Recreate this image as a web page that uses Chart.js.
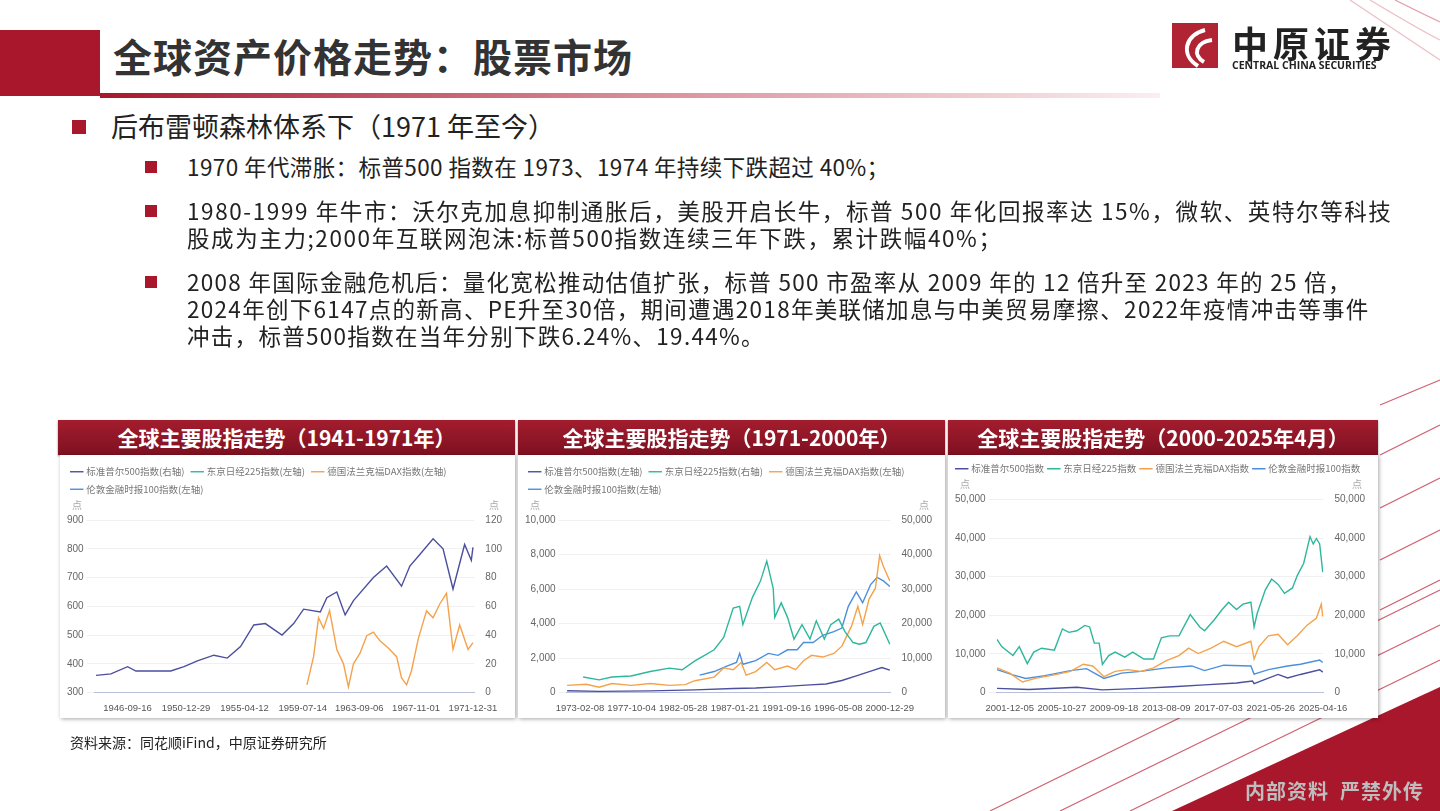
<!DOCTYPE html>
<html><head><meta charset="utf-8">
<script src="https://cdn.jsdelivr.net/npm/chart.js@4.4.1/dist/chart.umd.min.js"></script>
<style>
body{margin:0;width:1440px;height:811px;overflow:hidden;background:#fff;font-family:"Noto Sans CJK SC","Noto Sans",sans-serif;position:relative}
.abs{position:absolute}
#title{left:113px;top:27px;font-size:39px;font-weight:bold;color:#333;letter-spacing:1px}
.b1{font-size:27px;color:#222}
.b2{left:187px;font-size:22.5px;color:#222;line-height:27px;white-space:nowrap}
.sq{display:inline-block;background:#a8172c;position:absolute}
.hdr{top:420px;height:35px;background:linear-gradient(#a31d2e,#7e1020);color:#fff;font-weight:bold;font-size:21px;text-align:center;line-height:35px;box-shadow:0 1px 2px #888}
.panel{top:455px;height:263px;background:#fff;box-shadow:1px 1px 4px rgba(0,0,0,.35)}
.panel canvas{display:block}
</style></head><body>
<svg class="abs" style="left:0;top:0" width="1440" height="811">
<defs><linearGradient id="ul" x1="0" x2="1"><stop offset="0" stop-color="#a8172c"/><stop offset="0.5" stop-color="#d98b98"/><stop offset="1" stop-color="#fbeef0"/></linearGradient></defs>
<rect x="0" y="30" width="100" height="66" fill="#a8172c"/>
<rect x="100" y="93" width="1060" height="5" fill="url(#ul)"/>
<g stroke="#c43a4e" stroke-width="1.3" fill="none" opacity="0.8">
<line x1="1130" y1="811" x2="1440" y2="660"/><line x1="1060" y1="811" x2="1440" y2="625"/>
<line x1="990" y1="811" x2="1440" y2="590"/><line x1="1380" y1="720" x2="1440" y2="690"/>
<line x1="1380" y1="610" x2="1440" y2="580"/><line x1="1380" y1="560" x2="1440" y2="530"/>
<line x1="1380" y1="508" x2="1440" y2="478"/><line x1="1380" y1="455" x2="1440" y2="425"/>
<line x1="1380" y1="405" x2="1440" y2="380"/>
<path d="M1350,0 Q1410,40 1440,60" opacity="0.4"/><path d="M1370,0 Q1420,30 1440,40" opacity="0.4"/>
<path d="M1395,0 Q1425,15 1440,22" opacity="0.6"/>
</g>
<polygon points="1440,687 1440,811 1172,811" fill="#a8172c"/>
<rect x="1172" y="23" width="46" height="45" fill="#b02433"/>
<path d="M1205,30 C1185,35 1180,55 1198,66 M1212,40 C1196,42 1192,55 1204,62" stroke="#fff" stroke-width="4" fill="none"/>
</svg>
<div class="abs" style="left:1232px;top:16px;font-size:36px;font-family:'Noto Sans CJK SC';font-weight:bold;color:#222;letter-spacing:5px">中原证券</div>
<div class="abs" style="left:1232px;top:58px;font-size:10.5px;font-weight:bold;color:#222;font-family:'Open Sans'">CENTRAL CHINA SECURITIES</div>
<div id="title" class="abs">全球资产价格走势：股票市场</div>

<span class="sq" style="left:72px;top:120px;width:14px;height:14px"></span>
<div class="abs b1" style="left:111px;top:106px">后布雷顿森林体系下（1971 年至今）</div>
<span class="sq" style="left:145px;top:161px;width:12px;height:12px"></span>
<div class="abs b2" style="top:153px;letter-spacing:0.4px">1970 年代滞胀：标普500 指数在 1973、1974 年持续下跌超过 40%；</div>
<span class="sq" style="left:145px;top:205px;width:12px;height:12px"></span>
<div class="abs b2" style="top:197px;letter-spacing:1.6px">1980-1999 年牛市：沃尔克加息抑制通胀后，美股开启长牛，标普 500 年化回报率达 15%，微软、英特尔等科技<br>股成为主力;2000年互联网泡沫:标普500指数连续三年下跌，累计跌幅40%；</div>
<span class="sq" style="left:145px;top:276px;width:12px;height:12px"></span>
<div class="abs b2" style="top:268px;letter-spacing:1.3px">2008 年国际金融危机后：量化宽松推动估值扩张，标普 500 市盈率从 2009 年的 12 倍升至 2023 年的 25 倍，<br>2024年创下6147点的新高、PE升至30倍，期间遭遇2018年美联储加息与中美贸易摩擦、2022年疫情冲击等事件<br>冲击，标普500指数在当年分别下跌6.24%、19.44%。</div>

<div class="abs hdr" style="left:58px;width:457px">全球主要股指走势（1941-1971年）</div>
<div class="abs hdr" style="left:518px;width:427px">全球主要股指走势（1971-2000年）</div>
<div class="abs hdr" style="left:948px;width:430px">全球主要股指走势（2000-2025年4月）</div>
<div class="abs panel" style="left:60px;width:455px"><canvas id="c1" width="455" height="263"></canvas></div>
<div class="abs panel" style="left:518px;width:427px"><canvas id="c2" width="427" height="263"></canvas></div>
<div class="abs panel" style="left:948px;width:430px"><canvas id="c3" width="430" height="263"></canvas></div>
<div class="abs" style="left:70px;top:732px;font-size:14px;color:#222">资料来源：同花顺iFind，中原证券研究所</div>
<div class="abs" style="left:1245px;top:776px;font-size:20px;font-weight:bold;color:#bdbdbd;letter-spacing:1px">内部资料&nbsp;&nbsp;严禁外传</div>

<script>
// ---------- Data ----------
const names1 = ['标准普尔500指数(右轴)','东京日经225指数(左轴)','德国法兰克福DAX指数(左轴)','伦敦金融时报100指数(左轴)'];
const names2 = ['标准普尔500指数(左轴)','东京日经225指数(右轴)','德国法兰克福DAX指数(左轴)','伦敦金融时报100指数(左轴)'];
const names3 = ['标准普尔500指数','东京日经225指数','德国法兰克福DAX指数','伦敦金融时报100指数'];
const ticks1 = ['1946-09-16','1950-12-29','1955-04-12','1959-07-14','1963-09-06','1967-11-01','1971-12-31'];
const ticks2 = ['1973-02-08','1977-10-04','1982-05-28','1987-01-21','1991-09-16','1996-05-08','2000-12-29'];
const ticks3 = ['2001-12-05','2005-10-27','2009-09-18','2013-08-09','2017-07-03','2021-05-26','2025-04-16'];

// Chart 1 (1944-1971)
const spx1Years = [1944.40,1945.49,1946.71,1947.32,1948.66,1949.87,1950.84,1951.82,1953.03,1954.01,1954.98,1955.95,1956.80,1957.41,1958.02,1958.87,1959.60,1960.82,1961.30,1962.03,1962.64,1963.25,1964.71,1965.68,1966.77,1967.38,1968.11,1969.08,1969.81,1970.54,1971.39,1971.88,1972.0];
const spx1 = [12,13,18,15,15,15,18,22,26,24,32,47,48,44,40,48,58,56,66,70,54,64,80,88,74,88,96,107,100,72,103,92,101];
const dax1Years = [1959.84,1960.33,1960.69,1961.06,1961.50,1962.03,1962.52,1962.88,1963.25,1963.73,1964.22,1964.71,1965.19,1965.80,1966.41,1966.77,1967.14,1967.50,1967.99,1968.60,1969.08,1969.57,1970.06,1970.54,1971.03,1971.64,1972.0];
const dax1 = [327,425,560,523,585,450,400,320,400,437,498,510,480,455,425,351,327,376,486,584,560,608,645,450,535,450,474];

// Chart 2 (1972-2000)
const spx2Years = [1971.95,1974.83,1979.43,1983.45,1986.90,1988.92,1990.93,1993.81,1995.25,1996.68,1998.12,1999.56,2000.28,2001.0];
const spx2 = [105,70,100,160,240,270,330,450,500,700,1000,1300,1450,1300];
const nky2Years = [1973.39,1974.83,1975.98,1977.70,1979.43,1981.15,1982.30,1983.45,1984.32,1985.18,1986.04,1986.90,1987.48,1987.77,1988.63,1989.35,1989.92,1990.50,1990.64,1991.22,1991.79,1992.37,1993.09,1993.81,1994.38,1995.10,1995.68,1996.40,1996.97,1997.69,1998.27,1998.84,1999.56,2000.13,2001.0];
const nky2 = [4517,3700,4500,4800,6100,7100,6600,9200,10800,12400,16000,24500,25000,19700,27600,32300,38100,30200,21800,26000,21800,15500,19700,15500,20800,15500,19700,21300,17600,14500,14000,14500,19200,20200,14000];
const dax2Years = [1971.95,1973.68,1974.83,1975.98,1977.70,1979.43,1981.15,1982.59,1983.45,1985.18,1986.04,1986.90,1987.62,1988.06,1988.92,1989.92,1990.64,1991.79,1992.51,1993.23,1993.95,1994.96,1995.96,1996.68,1997.55,1998.12,1998.55,1999.13,1999.70,2000.08,2000.42,2001.0];
const dax2 = [420,480,315,525,420,525,420,460,690,900,1430,1325,1750,1010,1220,1750,1325,1535,1325,1850,2160,2060,2270,2690,3850,5000,3950,5420,6050,7940,7310,6470];
const ftse2Years = [1983.88,1985.18,1986.33,1987.19,1987.48,1987.77,1988.92,1990.07,1990.93,1991.79,1992.66,1993.23,1994.09,1994.96,1995.96,1996.68,1997.26,1997.98,1998.55,1999.27,1999.85,2000.42,2001.0];
const ftse2 = [1010,1220,1535,1750,2270,1640,1850,2270,2160,2480,2480,2900,2900,3320,3530,3740,5000,5840,5210,6260,6680,6470,6150];

// Chart 3 (2001-2025)
const spx3Years = [2000.98,2003.36,2006.93,2008.84,2011.70,2014.08,2016.46,2018.84,2020.03,2020.15,2021.94,2022.65,2023.61,2025.04,2025.27];
const spx3 = [1100,800,1400,700,1100,1500,2000,2500,3000,2300,4700,3800,4700,5900,5300];
const nky3Years = [2000.98,2001.33,2002.17,2002.64,2003.24,2003.72,2004.31,2005.26,2005.86,2006.34,2006.93,2007.53,2007.89,2008.24,2008.60,2008.84,2009.31,2009.79,2010.51,2011.10,2011.93,2012.65,2013.24,2013.84,2014.55,2015.39,2016.10,2016.46,2017.17,2017.77,2018.25,2018.84,2019.32,2019.91,2020.15,2020.39,2020.99,2021.46,2021.94,2022.42,2023.01,2023.37,2023.85,2024.32,2024.56,2024.80,2025.04,2025.27];
const nky3 = [13800,11900,9600,11900,7500,10500,11500,11000,16500,15600,16000,17400,17000,12800,12800,7300,9600,10500,9200,10500,8700,8700,14200,14700,14700,20200,17000,16000,18800,21500,23400,21500,22900,23400,17000,20600,26600,29400,28000,25700,27100,30300,33500,40400,38500,39900,38500,31200];
const dax3Years = [2000.98,2001.93,2002.88,2003.84,2005.26,2006.46,2007.41,2008.12,2008.96,2009.79,2010.74,2011.70,2012.65,2013.60,2014.55,2015.27,2015.98,2016.94,2017.89,2018.84,2019.91,2020.15,2020.51,2021.22,2021.94,2022.65,2023.37,2024.08,2024.80,2025.16,2025.27];
const dax3 = [6400,5050,2750,3670,4590,5500,7340,6900,4130,5500,5960,5500,6400,8260,9600,11500,10100,11500,13300,11900,13300,8700,11900,14700,15100,12400,14700,17400,19300,22900,19700];
const ftse3Years = [2000.98,2002.17,2003.12,2004.55,2006.46,2007.65,2008.96,2010.27,2011.70,2013.60,2015.51,2016.46,2017.89,2019.91,2020.15,2021.22,2022.65,2023.61,2025.04,2025.27];
const ftse3 = [5960,4590,3670,4400,5700,6200,3670,5050,5500,6400,6900,5700,7100,6900,4800,5960,6900,7340,8440,7800];

// ---------- Build ----------
const COL = {spx:'#4b4f9e', nky:'#2fb79c', dax:'#f4a24c', ftse:'#4b8fdc'};
const pts = (xs, ys) => xs.map((x,i)=>({x, y: ys[i]}));
const decYear = s => { const d = new Date(s+'T00:00:00Z'); const y = d.getUTCFullYear();
  const a = Date.UTC(y,0,1), b = Date.UTC(y+1,0,1); return y + (d - a)/(b - a); };
const fmt = v => v.toLocaleString('en-US');

const unitPlugin = {id:'unit',
  beforeInit(c){ const lg=c.legend; const orig=lg.fit; lg.fit=function(){ orig.call(this); this.height += 16; }; },
  afterDraw(c){ const ctx=c.ctx; ctx.save(); ctx.fillStyle='#aaa';
  ctx.font='10px "Noto Sans CJK SC"'; ctx.textBaseline='bottom';
  const a=c.chartArea; ctx.textAlign='left'; ctx.fillText('点', c.scales.y.left+8, a.top-10);
  ctx.textAlign='right'; ctx.fillText('点', c.scales.y2.right-6, a.top-10); ctx.restore(); }};

function make(id, names, sets, tickDates, xmin, xmax, yL, yR, lgPad){
  const tv = tickDates.map(decYear);
  new Chart(document.getElementById(id), {
    type:'line',
    data:{datasets: sets.map((s,i)=>({label:names[i], data:s.d, borderColor:s.c, backgroundColor:s.c,
      yAxisID:s.ax, borderWidth:1.4, pointRadius:0, tension:0}))},
    options:{responsive:false, animation:false,
      layout:{padding:{left:4,right:10,top:4,bottom:2}},
      plugins:{legend:{align:'start', labels:{usePointStyle:true, pointStyle:'line', boxWidth:12, color:'#777',
        font:{size:9.5, family:'"Noto Sans CJK SC"'}, padding:lgPad}}, tooltip:{enabled:false}},
      scales:{
        x:{type:'linear', min:xmin, max:xmax, grid:{display:false}, border:{color:'#b8bfd8'},
          afterBuildTicks(ax){ ax.ticks = tv.map(v=>({value:v})); },
          ticks:{autoSkip:false, maxRotation:0, color:'#555', font:{size:9.5}, padding:2,
            callback:(v,i)=>tickDates[i]}},
        y:{position:'left', min:yL[0], max:yL[1], ticks:{stepSize:yL[2], color:'#666', font:{size:10}, callback:fmt},
          grid:{color:'#f0f0f0'}, border:{display:false}},
        y2:{position:'right', min:yR[0], max:yR[1], ticks:{stepSize:yR[2], color:'#666', font:{size:10}, callback:fmt},
          grid:{display:false}, border:{display:false}}
      }},
    plugins:[unitPlugin]
  });
}

make('c1', names1, [
  {d:pts(spx1Years,spx1), c:COL.spx, ax:'y2'},
  {d:[], c:COL.nky, ax:'y'},
  {d:pts(dax1Years,dax1), c:COL.dax, ax:'y'},
  {d:[], c:COL.ftse, ax:'y'}], ticks1, 1944.3, 1972.1, [300,900,100], [0,120,20], 8);

make('c2', names2, [
  {d:pts(spx2Years,spx2), c:COL.spx, ax:'y'},
  {d:pts(nky2Years,nky2), c:COL.nky, ax:'y2'},
  {d:pts(dax2Years,dax2), c:COL.dax, ax:'y'},
  {d:pts(ftse2Years,ftse2), c:COL.ftse, ax:'y'}], ticks2, 1971.9, 2001.05, [0,10000,2000], [0,50000,10000], 8);

make('c3', names3, [
  {d:pts(spx3Years,spx3), c:COL.spx, ax:'y'},
  {d:pts(nky3Years,nky3), c:COL.nky, ax:'y2'},
  {d:pts(dax3Years,dax3), c:COL.dax, ax:'y'},
  {d:pts(ftse3Years,ftse3), c:COL.ftse, ax:'y'}], ticks3, 2000.95, 2025.32, [0,50000,10000], [0,50000,10000], 5);
</script>
</body></html>
